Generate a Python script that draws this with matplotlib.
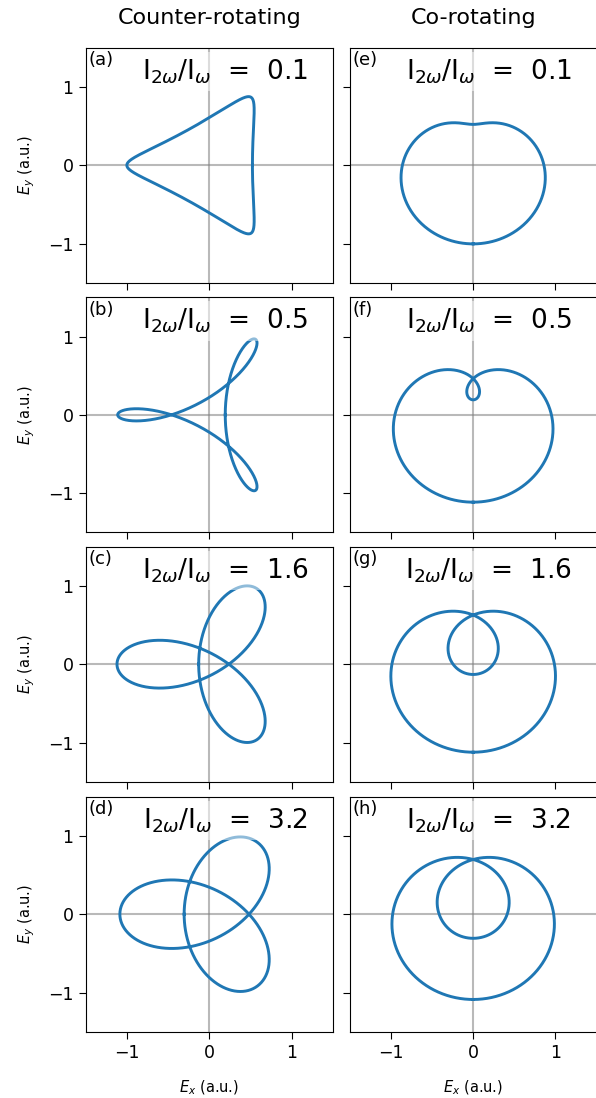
import numpy as np
import matplotlib
matplotlib.use("Agg")
import matplotlib.pyplot as plt

# intensity ratios I_2w / I_w, one per row
ratios = [0.1, 0.5, 1.6, 3.2]
letters_counter = ['(a)', '(b)', '(c)', '(d)']
letters_co = ['(e)', '(f)', '(g)', '(h)']
col_titles = ['Counter-rotating', 'Co-rotating']
ticks = [-1, 0, 1]
E0 = 0.8  # overall field amplitude (a.u.)

t = np.linspace(0, 2 * np.pi, 1000)

fig = plt.figure(figsize=(5.96, 10.98), dpi=100)

lefts = [0.1443, 0.5867]
bottoms = [0.7425, 0.5152, 0.2881, 0.0604]
w, h = 0.4144, 0.2140

for i, r in enumerate(ratios):
    A = E0 / np.sqrt(1 + r)
    B = E0 * np.sqrt(r) / np.sqrt(1 + r)
    # counter-rotating: w field + 2w field rotating the other way
    ex_c = A * np.cos(t) - B * np.cos(2 * t)
    ey_c = A * np.sin(t) + B * np.sin(2 * t)
    # co-rotating
    ex_o = A * np.sin(t) + B * np.sin(2 * t)
    ey_o = -A * np.cos(t) - B * np.cos(2 * t)

    for j, (ex, ey, let) in enumerate([(ex_c, ey_c, letters_counter[i]),
                                       (ex_o, ey_o, letters_co[i])]):
        ax = fig.add_axes([lefts[j], bottoms[i], w, h])
        ax.axhline(0, color='gray', alpha=0.55, lw=1.5, zorder=1)
        ax.axvline(0, color='gray', alpha=0.55, lw=1.5, zorder=1)
        ax.plot(ex, ey, color='#1f77b4', lw=2.1, zorder=2)
        ax.set_xlim(-1.5, 1.5)
        ax.set_ylim(-1.5, 1.5)
        ax.set_xticks(ticks)
        ax.set_yticks(ticks)
        ax.tick_params(labelsize=12.5, length=5, pad=4)
        ax.text(0.01, 0.985, let, transform=ax.transAxes, ha='left', va='top',
                fontsize=13, zorder=4)
        ax.text(0.563, 0.96, r'I$_{2\omega}$/I$_{\omega}$  =  %.1f' % r,
                transform=ax.transAxes, ha='center', va='top', fontsize=19,
                zorder=3,
                bbox=dict(facecolor='white', alpha=0.5, edgecolor='none', pad=4))
        if i < 3:
            ax.tick_params(labelbottom=False)
        else:
            ax.set_xlabel(r'$E_x$ (a.u.)', fontsize=10.5, labelpad=12)
        if j == 1:
            ax.tick_params(labelleft=False)
        else:
            ax.set_ylabel(r'$E_y$ (a.u.)', fontsize=10.5, labelpad=8)

for j in range(2):
    fig.text(lefts[j] + w / 2, 1 - 18 / 1098, col_titles[j], ha='center',
             va='center', fontsize=16)

fig.savefig('out.png', dpi=100)
